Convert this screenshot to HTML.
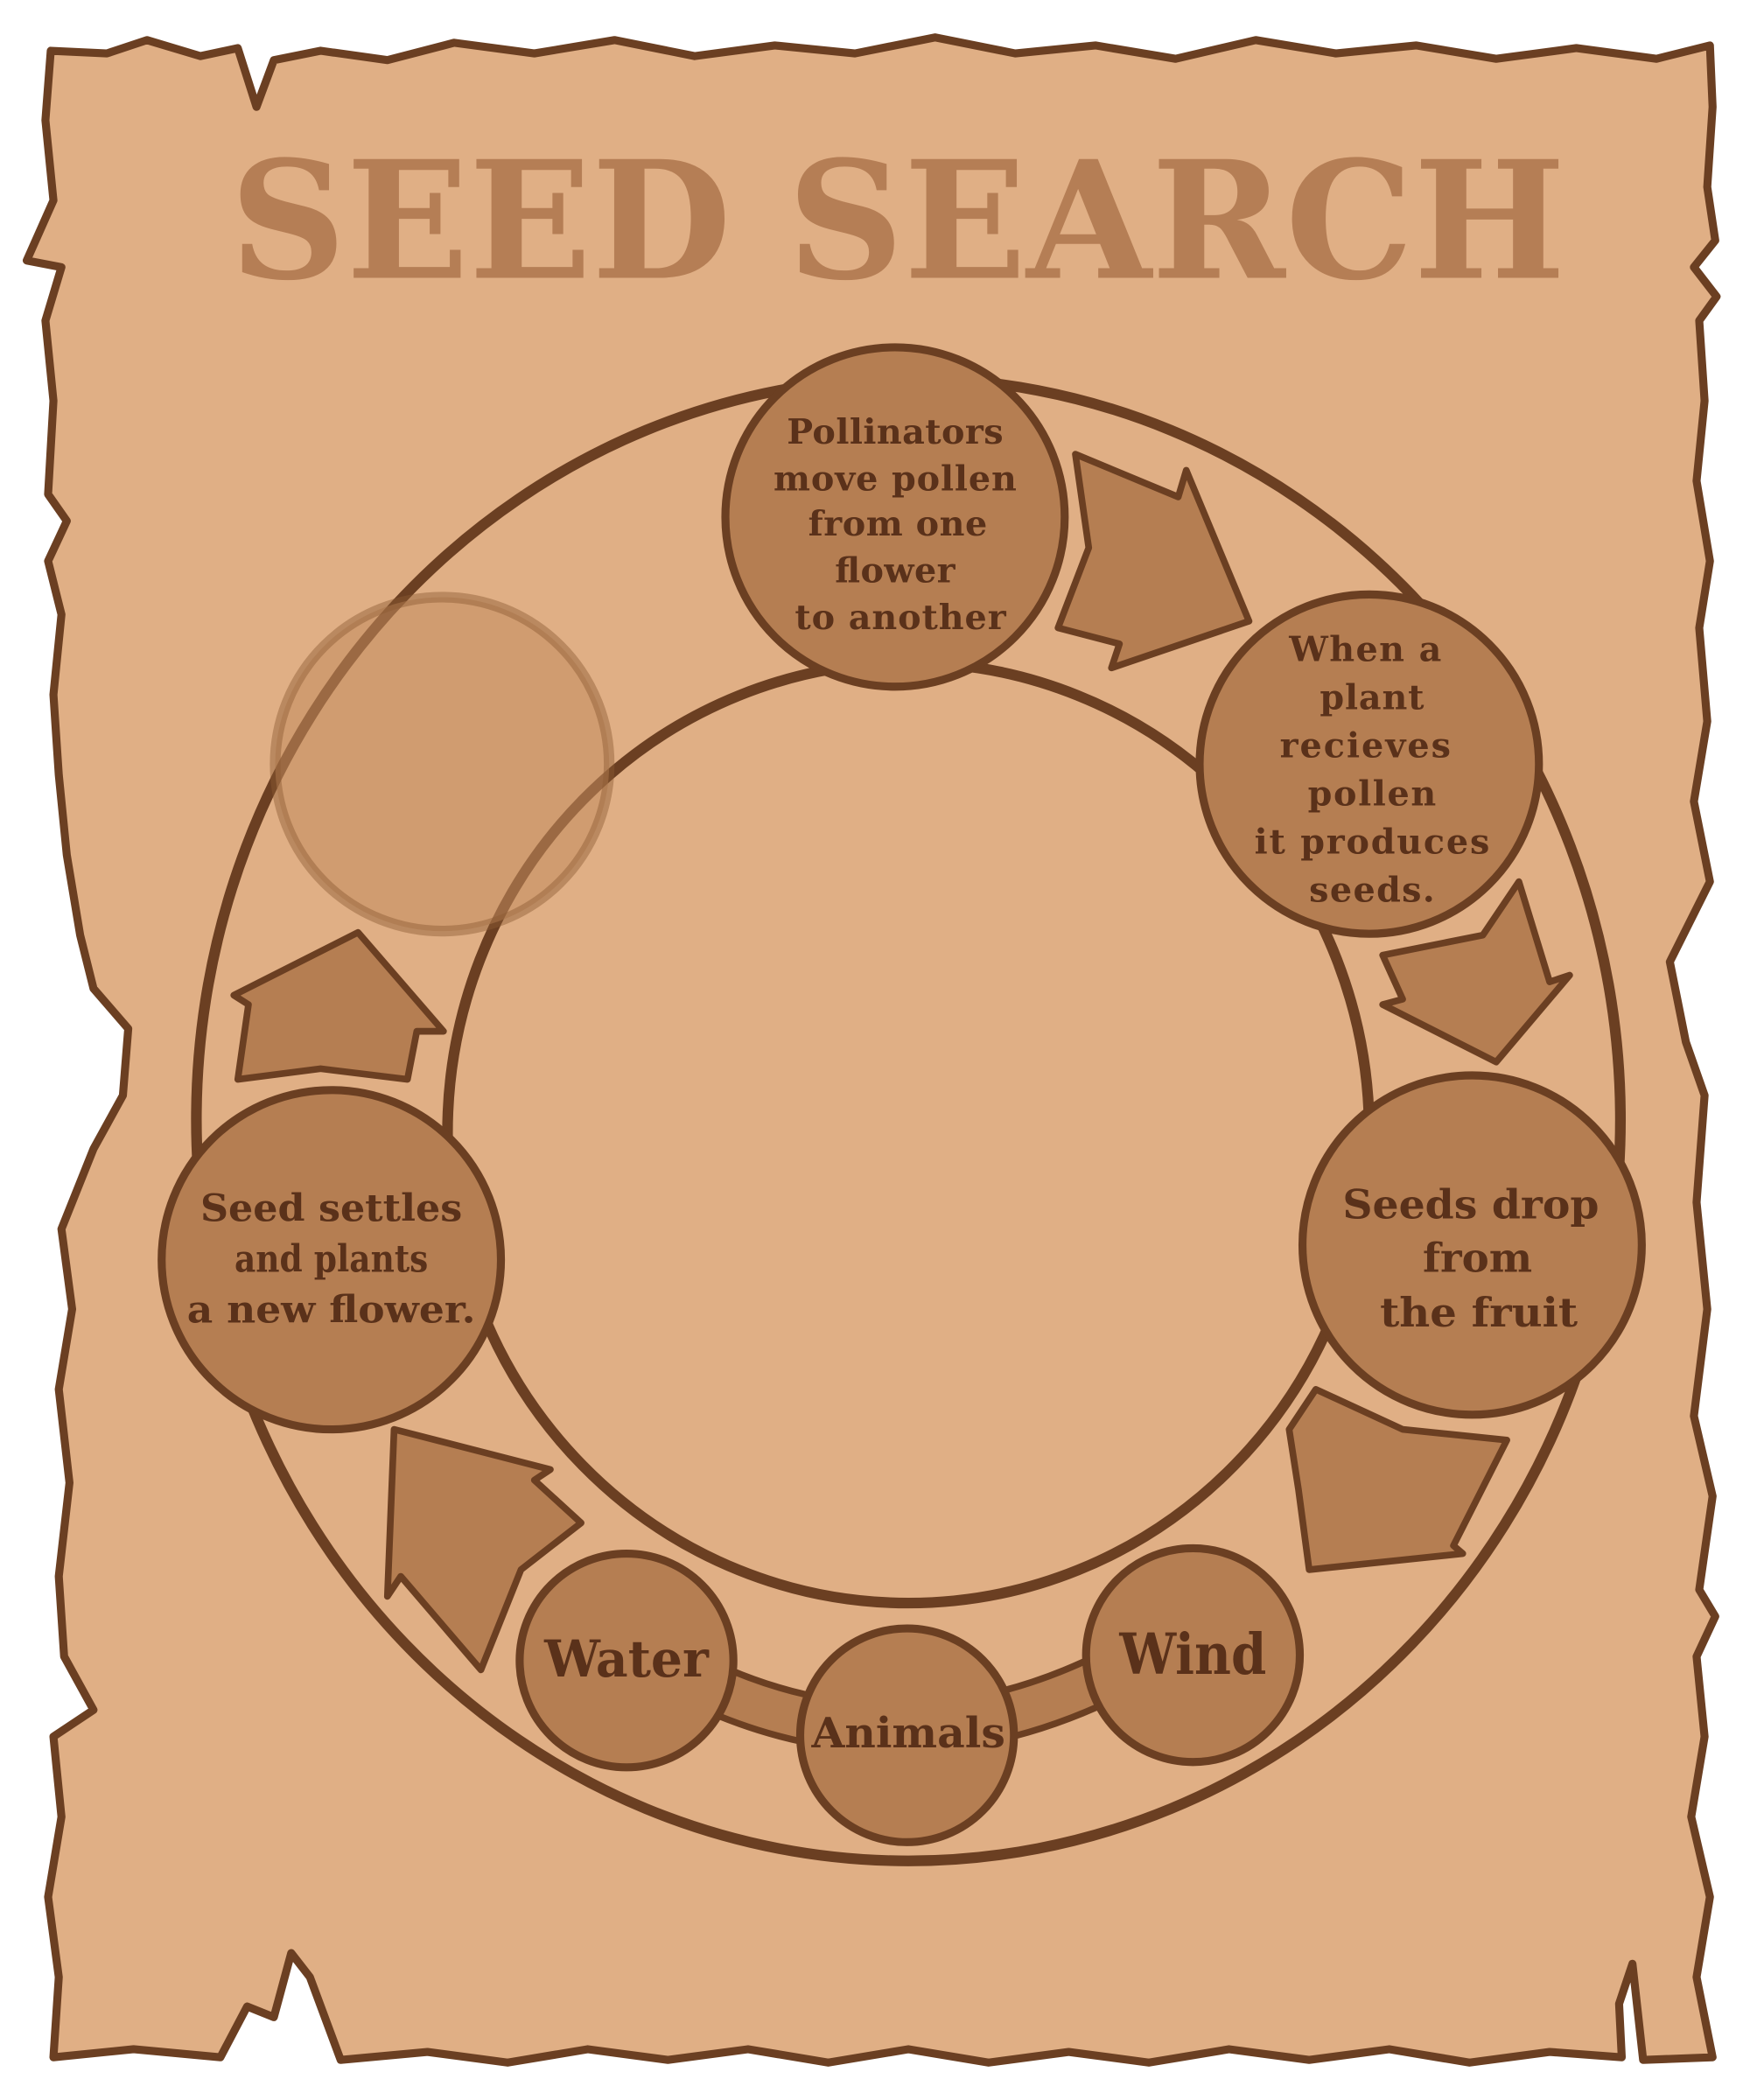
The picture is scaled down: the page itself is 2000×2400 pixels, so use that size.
<!DOCTYPE html>
<html><head><meta charset="utf-8"><style>
html,body{margin:0;padding:0;background:#fff;width:2000px;height:2400px;overflow:hidden}
svg{display:block}
text{font-family:"DejaVu Serif","Liberation Serif",serif;font-weight:bold;fill:#5A311A;text-anchor:middle}
</style></head><body>
<svg width="2000" height="2400" viewBox="0 0 1310 1572" xmlns="http://www.w3.org/2000/svg">
<path d="M38,38 L80,40 L110,30 L150,42 L178,36 L192,80 L205,45 L240,38 L290,45 L340,32 L400,40 L460,30 L520,42 L580,34 L640,40 L700,28 L760,40 L820,34 L880,44 L940,30 L1000,40 L1060,34 L1120,44 L1180,36 L1240,44 L1280,34 L1282,80 L1278,140 L1284,180 L1268,200 L1285,222 L1272,240 L1276,300 L1270,360 L1280,420 L1272,470 L1278,540 L1268,600 L1280,660 L1250,720 L1262,780 L1276,820 L1270,900 L1278,980 L1268,1060 L1282,1120 L1272,1190 L1284,1210 L1270,1240 L1276,1300 L1266,1360 L1280,1420 L1270,1480 L1282,1540 L1230,1542 L1222,1470 L1212,1500 L1214,1540 L1160,1536 L1100,1544 L1040,1534 L980,1542 L920,1534 L860,1544 L800,1536 L740,1544 L680,1534 L620,1544 L560,1534 L500,1542 L440,1534 L380,1544 L320,1536 L255,1542 L232,1480 L218,1462 L205,1510 L185,1502 L165,1540 L100,1534 L40,1540 L44,1480 L36,1420 L46,1360 L40,1300 L70,1280 L48,1240 L44,1180 L52,1110 L44,1040 L54,980 L46,920 L70,860 L92,820 L96,770 L70,740 L60,700 L50,640 L44,580 L40,520 L46,460 L36,420 L50,390 L36,370 L40,300 L34,240 L46,200 L20,195 L40,150 L34,90 Z" fill="#E0AF85" stroke="#6B3F22" stroke-width="6" stroke-linejoin="round"/>
<text x="672" y="208" font-size="122" style="fill:#B57E55" textLength="1000" lengthAdjust="spacingAndGlyphs">SEED SEARCH</text>
<ellipse cx="680" cy="838" rx="533" ry="555" fill="none" stroke="#6B3F22" stroke-width="8"/>
<ellipse cx="680" cy="848" rx="345" ry="352" fill="none" stroke="#6B3F22" stroke-width="8"/>
<circle cx="331" cy="572" r="125" fill="rgba(195,140,95,0.55)" stroke="rgba(140,90,50,0.45)" stroke-width="8"/>
<g fill="#B57E52" stroke="#6B3F22" stroke-width="5" stroke-linejoin="round">
<polygon points="805,340 882,372 888,352 935,465 832,500 838,482 792,470 815,410"/>
<polygon points="1137,660 1160,735 1175,730 1120,795 1035,752 1050,748 1035,715 1110,700"/>
<polygon points="965,1070 985,1040 1050,1070 1128,1078 1088,1157 1095,1163 980,1175 972,1115"/>
<polygon points="360,1250 300,1180 290,1195 295,1070 412,1100 400,1108 435,1140 390,1175"/>
<polygon points="178,808 186,752 175,745 268,698 332,772 312,772 305,808 240,800"/>
</g>
<path d="M530,1262 Q680,1330 835,1252" fill="none" stroke="#6B3F22" stroke-width="40"/>
<path d="M530,1262 Q680,1330 835,1252" fill="none" stroke="#B57E52" stroke-width="30"/>
<g fill="#B57E52" stroke="#6B3F22" stroke-width="6">
<circle cx="670" cy="387" r="127"/>
<circle cx="1025" cy="572" r="127"/>
<circle cx="1102" cy="932" r="127"/>
<circle cx="248" cy="943" r="127"/>
<circle cx="469" cy="1243" r="80"/>
<circle cx="679" cy="1299" r="80"/>
<circle cx="893" cy="1239" r="80"/>
</g>
<g font-size="26" lengthAdjust="spacingAndGlyphs">
<text x="670" y="332" textLength="162">Pollinators</text>
<text x="670" y="367" textLength="182">move pollen</text>
<text x="672" y="401" textLength="134">from one</text>
<text x="670" y="436" textLength="90">flower</text>
<text x="674" y="471" textLength="158">to another</text>
<text x="1022" y="495" textLength="114">When a</text>
<text x="1027" y="531" textLength="78">plant</text>
<text x="1022" y="567" textLength="128">recieves</text>
<text x="1027" y="603" textLength="96">pollen</text>
<text x="1027" y="639" textLength="176">it produces</text>
<text x="1027" y="675" textLength="94">seeds.</text>
</g>
<g font-size="30">
<text x="1101" y="912" textLength="192" lengthAdjust="spacingAndGlyphs">Seeds drop</text>
<text x="1106" y="952" textLength="82" lengthAdjust="spacingAndGlyphs">from</text>
<text x="1107" y="993" textLength="148" lengthAdjust="spacingAndGlyphs">the fruit</text>
</g>
<g font-size="28">
<text x="248" y="914" textLength="196" lengthAdjust="spacingAndGlyphs">Seed settles</text>
<text x="248" y="952" textLength="145" lengthAdjust="spacingAndGlyphs">and plants</text>
<text x="248" y="990" textLength="216" lengthAdjust="spacingAndGlyphs">a new flower.</text>
</g>
<text x="469" y="1255" font-size="38" textLength="123" lengthAdjust="spacingAndGlyphs">Water</text>
<text x="893" y="1253" font-size="42" textLength="110" lengthAdjust="spacingAndGlyphs">Wind</text>
<text x="680" y="1308" font-size="31" textLength="145" lengthAdjust="spacingAndGlyphs">Animals</text>
</svg>
</body></html>
